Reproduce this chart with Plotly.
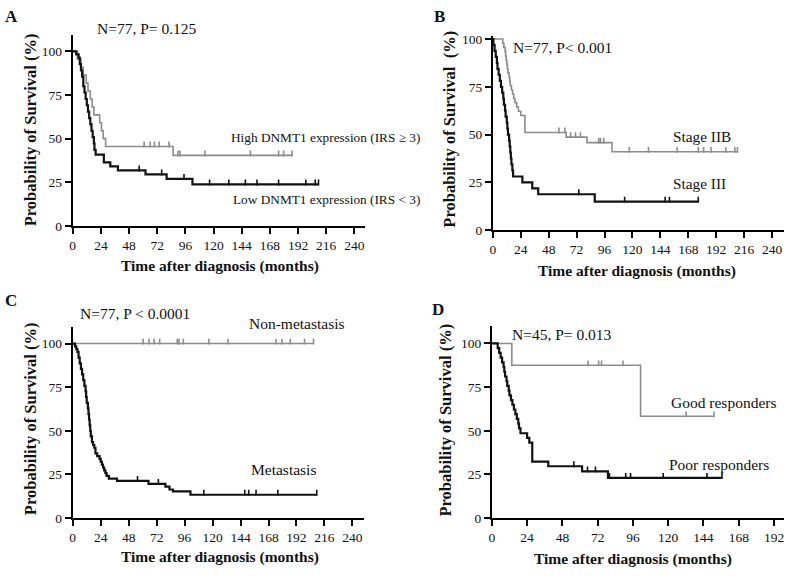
import plotly.graph_objects as go

W, H = 788, 579

# ---------------- data (months, % survival) ----------------
# Panel A
A_low_times = [3, 5, 6, 7, 8, 9, 10, 11, 12, 13, 14, 15, 16, 17, 18, 18.5, 19.5, 26.5, 32, 38.5, 62, 80, 102]
A_low_surv = [98.2, 96.4, 92.7, 89.1, 85.5, 80, 76.4, 72.7, 69.1, 65.5, 61.8, 58.2, 54.5, 50.9, 47.3, 43.6, 40.9,
              36.4, 34.1, 31.8, 29.5, 27, 23.8]
A_low_censor = [56.6, 75.8, 94.8, 116.6, 133, 147.1, 157, 175.4, 198.6, 206.6, 209.4]
A_high_times = [4, 7, 9, 11.5, 13, 15, 16.5, 18, 23, 24.5, 26, 28, 85.5]
A_high_surv = [95.5, 90.9, 86.4, 81.8, 77.3, 72.7, 68.2, 63.6, 59.1, 54.5, 50, 45.5, 40.4]
A_high_censor = [60.8, 66, 69.6, 73.6, 82, 89.7, 91.4, 112.6, 151.4, 175.4, 179.7, 186.8]

# Panel B
B_III_times = [0.5, 1.5, 2.5, 3.5, 4, 5, 6, 7, 8, 9, 9.5, 10.5, 11, 12, 12.5, 13, 14, 14.5, 15, 15.5, 16, 16.8, 17.4,
               25.4, 33.9, 39, 87.6]
B_III_surv = [96.9, 93.8, 90.6, 87.5, 84.4, 81.3, 78.1, 75, 71.9, 68.8, 65.6, 62.5, 59.4, 56.3, 53.1, 50, 46.9, 43.8,
              40.6, 37.5, 34.4, 31.3, 28.1, 25, 21.9, 18.8, 15]
B_III_censor = [73.9, 113.3, 148.1, 151.8, 176.6]
B_IIB_times = [8.5, 9.5, 10.5, 11, 11.5, 12, 12.5, 13, 14, 14.5, 15, 16, 17, 18, 19, 20.5, 22, 24, 27.6, 63, 81, 102.4]
B_IIB_surv = [97.8, 95.6, 93.3, 91.1, 88.9, 86.7, 84.4, 82.2, 80, 77.8, 75.6, 73.3, 71.1, 68.9, 66.7, 64.4, 62.2, 60,
              51.1, 48.7, 45.8, 41]
B_IIB_censor = [56.8, 61.9, 66.8, 71.1, 75.3, 91, 92.5, 95.3, 117.3, 133.8, 158.4, 176.6, 181.2, 187.5, 200.3, 208, 210.3]

# Panel C
C_met_times = [2, 3, 4, 5, 6, 7, 8, 9, 10, 11, 11.5, 12, 13, 13.5, 14, 14.5, 15, 15.5, 16.5, 17.5, 18.5, 19.5, 21, 23,
               24, 25, 26, 27, 28, 29, 31, 38, 65, 79.5, 83, 86, 101]
C_met_surv = [98.4, 96.8, 95.2, 91.9, 88.7, 85.5, 82.3, 79, 75.8, 72.6, 69.4, 66.1, 62.9, 59.7, 56.5, 53.2, 50, 46.8,
              43.5, 41.9, 40.3, 37.1, 35.5, 33.9, 32.3, 30.6, 29, 27.4, 25.8, 24.2, 22.6, 21.3, 19.6, 18, 16.4, 15.3, 13.4]
C_met_censor = [55.6, 73.5, 112.5, 147.6, 151, 157.3, 176, 209.4]
C_non_times = []
C_non_surv = []
C_non_censor = [60.4, 65.5, 69.8, 74.6, 89.7, 91.2, 94.9, 116.8, 133.3, 174.4, 179.5, 186.6, 198.9, 206.6]

# Panel D
D_good_times = [13.6, 101.2]
D_good_surv = [87.5, 58.3]
D_good_censor = [65.5, 72.7, 74.6, 89.2, 132.2, 151.2]
D_poor_times = [4, 5, 6, 7, 8, 8.5, 9, 10, 10.5, 11.5, 12, 13, 14, 15, 16, 17, 18, 18.5, 19.5, 24, 25.5, 27.5, 38.4,
                61.4, 79]
D_poor_surv = [97.3, 94.6, 91.9, 89.2, 86.5, 83.8, 81.1, 78.4, 75.7, 73, 70.3, 67.6, 64.9, 62.2, 59.5, 56.8, 54.1,
               51.4, 48.6, 45.9, 43.2, 32.4, 29.7, 26.8, 23]
D_poor_censor = [55.8, 65.1, 70.5, 80, 91.1, 94.4, 116.6, 146.4, 156.6]

x_ticks_240 = [0, 24, 48, 72, 96, 120, 144, 168, 192, 216, 240]
x_ticks_192 = [0, 24, 48, 72, 96, 120, 144, 168, 192]
y_ticks = [0, 25, 50, 75, 100]

# ---------------- styling ----------------
SERIF = "Liberation Serif, Times New Roman, serif"
BLACK = "#111111"
GRAY = "#8c8c8c"

# pixel boxes of the four plot areas: x0, x1, y_top, y_bottom, x-range max, y-range max
panels = {
    "A": dict(box=(70, 363, 31.7, 226.7), xmax=248.7, ymax=109.3, xt=x_ticks_240),
    "B": dict(box=(491.7, 784, 32.8, 231), xmax=250.3, ymax=101.5, xt=x_ticks_240),
    "C": dict(box=(70, 362.7, 330, 525), xmax=250.2, ymax=109.4, xt=x_ticks_240),
    "D": dict(box=(490.7, 784, 329, 525), xmax=198.8, ymax=109.9, xt=x_ticks_192),
}
axis_ids = {"A": ("x", "y"), "B": ("x2", "y2"), "C": ("x3", "y3"), "D": ("x4", "y4")}


def level_at(times, surv, t):
    s = 100
    for ti, si in zip(times, surv):
        if ti <= t:
            s = si
    return s


fig = go.Figure()


def add_curve(panel, times, surv, censor, color, width):
    xa, ya = axis_ids[panel]
    end = max(censor) if censor else times[-1]
    xs = [0] + list(times) + [end]
    ys = [100] + list(surv) + [surv[-1] if surv else 100]
    fig.add_trace(go.Scatter(x=xs, y=ys, mode="lines", line=dict(color=color, width=width, shape="hv"),
                             xaxis=xa, yaxis=ya, showlegend=False, hoverinfo="skip"))
    p = panels[panel]
    x0, x1, yt, yb = p["box"]
    ppu = (yb - yt) / p["ymax"]
    up, dn = 5.0 / ppu, 1.0 / ppu
    cy = [level_at(times, surv, t) for t in censor]
    fig.add_trace(go.Scatter(x=censor, y=cy, mode="markers",
                             marker=dict(size=1, color="rgba(0,0,0,0)"),
                             error_y=dict(type="data", symmetric=False, array=[up] * len(censor),
                                          arrayminus=[dn] * len(censor), width=0, thickness=1.6, color=color),
                             xaxis=xa, yaxis=ya, showlegend=False, hoverinfo="skip", cliponaxis=False))


add_curve("A", A_high_times, A_high_surv, A_high_censor, GRAY, 1.6)
add_curve("A", A_low_times, A_low_surv, A_low_censor, BLACK, 2.2)
add_curve("B", B_IIB_times, B_IIB_surv, B_IIB_censor, GRAY, 1.6)
add_curve("B", B_III_times, B_III_surv, B_III_censor, BLACK, 2.2)
add_curve("C", C_non_times, C_non_surv, C_non_censor, GRAY, 1.6)
add_curve("C", C_met_times, C_met_surv, C_met_censor, BLACK, 2.2)
add_curve("D", D_good_times, D_good_surv, D_good_censor, GRAY, 1.6)
add_curve("D", D_poor_times, D_poor_surv, D_poor_censor, BLACK, 2.2)

layout = dict(width=W, height=H, margin=dict(l=0, r=0, t=0, b=0),
              paper_bgcolor="white", plot_bgcolor="white", showlegend=False)

for name, p in panels.items():
    x0, x1, yt, yb = p["box"]
    xa, ya = axis_ids[name]
    xkey = "xaxis" if xa == "x" else "xaxis" + xa[1:]
    ykey = "yaxis" if ya == "y" else "yaxis" + ya[1:]
    common = dict(showline=True, linewidth=2, linecolor="black", ticks="outside", ticklen=6, tickwidth=1.8,
                  tickcolor="black", showgrid=False, zeroline=False,
                  tickfont=dict(family=SERIF, size=13.5, color=BLACK))
    layout[xkey] = dict(domain=[x0 / W, x1 / W], range=[0, p["xmax"]], tickvals=p["xt"],
                        anchor=ya, **common)
    layout[ykey] = dict(domain=[1 - yb / H, 1 - yt / H], range=[0, p["ymax"]], tickvals=y_ticks,
                        anchor=xa, **common)

fig.update_layout(**layout)


def ann(text, px, py, size, bold=False, xanchor="center", angle=0):
    fig.add_annotation(text=("<b>%s</b>" % text) if bold else text, x=px / W, y=1 - py / H,
                       xref="paper", yref="paper", xanchor=xanchor, yanchor="middle", showarrow=False,
                       textangle=angle, font=dict(family=SERIF, size=size, color=BLACK))


# panel letters
ann("A", 8.5, 12.5, 17, bold=True)
ann("B", 438.5, 12.5, 17, bold=True)
ann("C", 8.5, 302.5, 17, bold=True)
ann("D", 437, 311.7, 17, bold=True)

# statistics
ann("N=77, P= 0.125", 145, 25, 15.5)
ann("N=77, P&lt; 0.001", 561.7, 44, 15.5)
ann("N=77, P &lt; 0.0001", 133, 316.5, 15.5)
ann("N=45, P= 0.013", 561, 337.5, 15.5)

# curve labels
ann("High DNMT1 expression (IRS ≥ 3)", 226.7, 136.7, 13.3, xanchor="left")
ann("Low DNMT1 expression (IRS &lt; 3)", 229.3, 200, 13.3, xanchor="left")
ann("Stage IIB", 670.7, 135, 15.3, xanchor="left")
ann("Stage III", 670.7, 183, 15.3, xanchor="left")
ann("Non-metastasis", 245, 326.7, 15.5, xanchor="left")
ann("Metastasis", 246.7, 475, 15.5, xanchor="left")
ann("Good responders", 669, 406.7, 15.5, xanchor="left")
ann("Poor responders", 667, 470, 15.5, xanchor="left")

# axis titles
XT = "Time after diagnosis (months)"
ann(XT, 217.5, 268, 15.5, bold=True)
ann(XT, 636.5, 273, 15.5, bold=True)
ann(XT, 217.5, 565, 15.5, bold=True)
ann(XT, 632, 566.7, 15.5, bold=True)
ann("Probability of Survival (%)", 27, 128, 16.5, bold=True, angle=-90)
ann("Probability of Survival\u00a0 (%)", 448, 128, 16.5, bold=True, angle=-90)
ann("Probability of Survival (%)", 27, 423, 16.5, bold=True, angle=-90)
ann("Probability of Survival (%)", 444, 425, 16.5, bold=True, angle=-90)

fig.write_html("out.html",
               config={"displayModeBar": False},
               post_script="document.body.style.margin='0';document.body.style.padding='0';"
                           "document.documentElement.style.overflow='hidden';")
